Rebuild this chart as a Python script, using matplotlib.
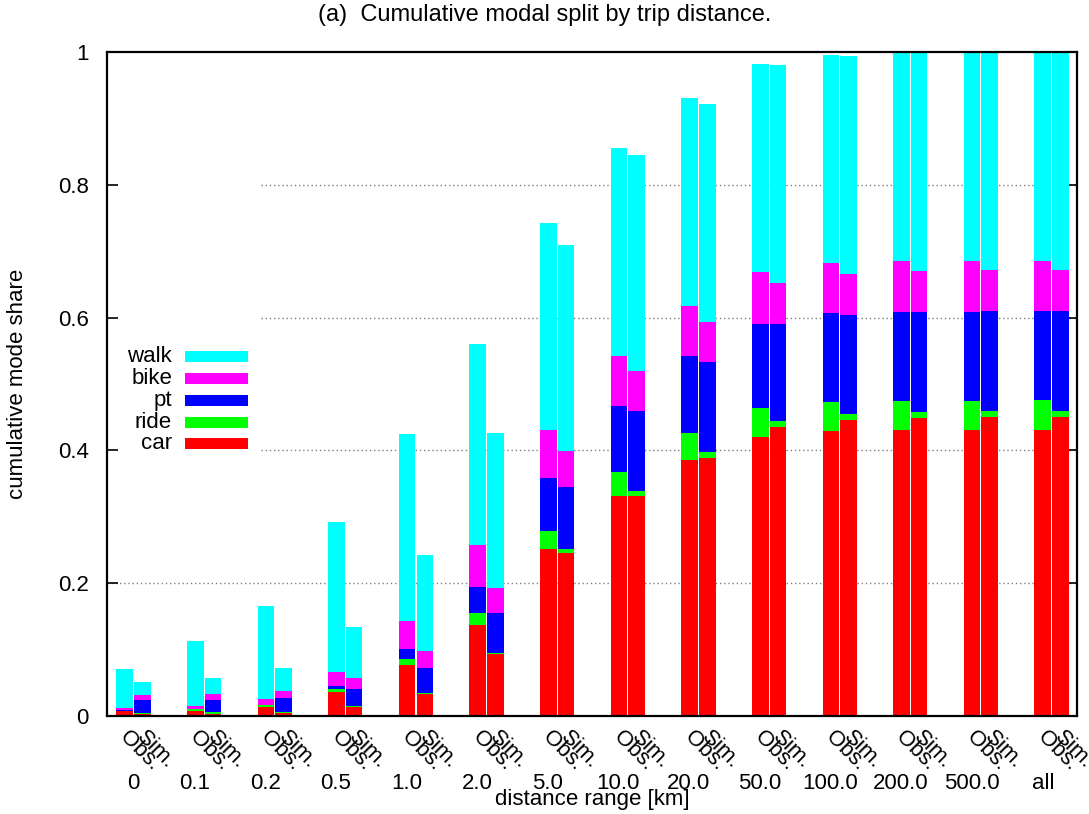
import matplotlib
matplotlib.use("Agg")
import matplotlib.pyplot as plt
from matplotlib.patches import Rectangle
import numpy as np

plt.rcParams['font.family'] = ['Liberation Sans', 'DejaVu Sans']

# distance classes
grupos = ["0", "0.1", "0.2", "0.5", "1.0", "2.0", "5.0", "10.0", "20.0",
          "50.0", "100.0", "200.0", "500.0", "all"]

# cumulative share (top of each stacked segment), observed
car_obs = [0.007, 0.008, 0.014, 0.036, 0.077, 0.137, 0.251, 0.331, 0.386, 0.420, 0.429, 0.431, 0.431, 0.431]
ride_obs = [0.0075, 0.010, 0.016, 0.041, 0.086, 0.155, 0.279, 0.368, 0.426, 0.464, 0.473, 0.474, 0.474, 0.476]
pt_obs = [0.0085, 0.011, 0.017, 0.045, 0.101, 0.194, 0.358, 0.467, 0.542, 0.591, 0.607, 0.608, 0.608, 0.610]
bike_obs = [0.012, 0.015, 0.026, 0.066, 0.143, 0.257, 0.431, 0.542, 0.618, 0.669, 0.682, 0.685, 0.685, 0.685]
walk_obs = [0.071, 0.113, 0.166, 0.292, 0.425, 0.560, 0.743, 0.855, 0.931, 0.982, 0.995, 1.0, 1.0, 1.0]

# cumulative share, simulated
car_sim = [0.0025, 0.0035, 0.005, 0.014, 0.033, 0.093, 0.2455, 0.331, 0.389, 0.435, 0.446, 0.449, 0.450, 0.450]
ride_sim = [0.004, 0.0055, 0.006, 0.0155, 0.035, 0.095, 0.2515, 0.339, 0.398, 0.444, 0.455, 0.458, 0.459, 0.459]
pt_sim = [0.024, 0.024, 0.027, 0.041, 0.072, 0.155, 0.345, 0.459, 0.533, 0.590, 0.604, 0.608, 0.610, 0.610]
bike_sim = [0.0316, 0.0336, 0.0376, 0.057, 0.098, 0.193, 0.399, 0.520, 0.593, 0.652, 0.666, 0.670, 0.672, 0.672]
walk_sim = [0.051, 0.057, 0.072, 0.134, 0.2425, 0.426, 0.709, 0.845, 0.922, 0.980, 0.994, 1.0, 1.0, 1.0]

modos = ["car", "ride", "pt", "bike", "walk"]
colores = ["#ff0000", "#00ff00", "#0000ff", "#ff00ff", "#00ffff"]
obs = [car_obs, ride_obs, pt_obs, bike_obs, walk_obs]
sim = [car_sim, ride_sim, pt_sim, bike_sim, walk_sim]

fs = 16
fig = plt.figure(figsize=(10.89, 8.14), dpi=100)
ax = fig.add_axes([107/1089, 1-716/814, 970/1089, 664/814])

x = np.arange(len(grupos))
ancho = 0.235
desp = 0.125

# dotted grid (gnuplot leaves the upper ones clear near the key)
ax.hlines(0.2, -0.375, 13.36, colors="#808080", linestyles=(0, (1, 2)), linewidth=1.0, zorder=0)
ax.hlines([0.4, 0.6, 0.8], 1.806, 13.36, colors="#808080", linestyles=(0, (1, 2)), linewidth=1.0, zorder=0)

for datos, dx in [(obs, -desp), (sim, desp)]:
    abajo = np.zeros(len(grupos))
    for nivel, col in zip(datos, colores):
        nivel = np.array(nivel)
        ax.bar(x + dx, nivel - abajo, ancho, bottom=abajo, color=col,
               linewidth=0, zorder=2)
        abajo = nivel

ax.set_xlim(-0.375, 13.36)
ax.set_ylim(0, 1)

ax.set_yticks([0, 0.2, 0.4, 0.6, 0.8, 1])
ax.set_yticklabels(["0", "0.2", "0.4", "0.6", "0.8", "1"], fontsize=fs)
ax.tick_params(axis="y", direction="in", length=8, width=1.2, right=True, pad=13)
ax.set_xticks([])
for s in ax.spines.values():
    s.set_linewidth(1.6)

# Obs./Sim. labels and group labels below the axis
for i, g in enumerate(grupos):
    for dx, t in [(-desp, "Obs."), (desp, "Sim.")]:
        ax.text(i + dx - 0.03, -0.028, t, transform=ax.get_xaxis_transform(),
                rotation=-45, rotation_mode="anchor", ha="left", va="center",
                fontsize=fs)
    off = 0 if g == "0" else (-0.115 if g == "all" else -0.135)
    ax.text(i + off, -0.101, g, transform=ax.get_xaxis_transform(),
            ha="center", va="center", fontsize=fs)

ax.text(0.5, -0.1265, "distance range [km]", transform=ax.transAxes,
        ha="center", va="center", fontsize=fs)
fig.text(18/1089, 1-384/814, "cumulative mode share", rotation=90,
         ha="center", va="center", fontsize=fs)
fig.text(0.5, 1-15/814, "(a)  Cumulative modal split by trip distance.",
         ha="center", va="center", fontsize=17)

# key: text right-aligned, swatch to its right, walk on top
for k, (m, c) in enumerate(zip(modos[::-1], colores[::-1])):
    yc = (716 - (357 + 21.75*k)) / 664
    ax.add_patch(Rectangle((78/970, yc - 5.5/664), 63/970, 11/664,
                           transform=ax.transAxes, facecolor=c,
                           linewidth=0, zorder=3))
    ax.text(65/970, yc, m, transform=ax.transAxes, ha="right", va="center",
            fontsize=fs)

fig.savefig("out.png", dpi=100)
